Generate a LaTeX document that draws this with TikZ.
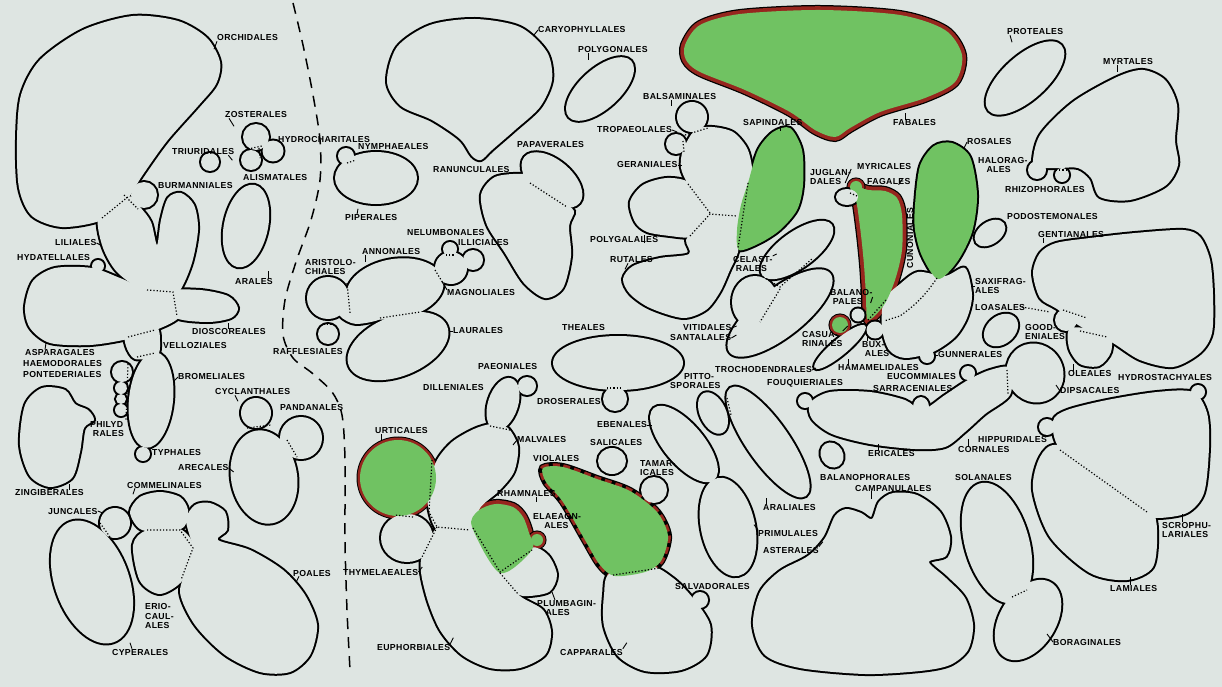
\documentclass[tikz,border=0pt]{standalone}
\usepackage{fontspec}
\setmainfont{Liberation Sans}
\newfontfamily\labfont[LetterSpace=4]{Liberation Sans}
\usetikzlibrary{calc}
\definecolor{paper}{RGB}{222,229,226}
\definecolor{leafgreen}{RGB}{112,194,98}
\definecolor{rimred}{RGB}{150,38,30}
\pgfdeclarelayer{bg}
\pgfdeclarelayer{lines}
\pgfdeclarelayer{top}
\pgfsetlayers{bg,lines,main,top}
\tikzset{
  outl/.style   = {line width=4pt, draw=black},
  rimblack/.style = {line width=10pt, draw=black},
  rim/.style    = {line width=7.5pt, draw=rimred},
  rimdash/.style = {line width=5.5pt, draw=rimred, dash pattern=on 7pt off 4pt},
  seam/.style   = {line width=1.2pt, dotted},
  lbl/.style    = {anchor=west, inner sep=0pt, align=left,
                   font=\labfont\bfseries\fontsize{8.7}{9.5}\selectfont},
  lead/.style   = {line width=0.9pt},
  divide/.style = {line width=1.5pt, dash pattern=on 11pt off 8pt},
}
% outline on the lines layer, fill on top: touching shapes merge
\newcommand\blob[2][paper]{%
  \begin{pgfonlayer}{lines}\draw[outl] plot[smooth cycle] coordinates {#2};\end{pgfonlayer}
  \fill[#1] plot[smooth cycle] coordinates {#2};}
\newcommand\lobe[5][paper]{%
  \begin{pgfonlayer}{lines}\draw[outl, rotate around={#5:(#2)}] (#2) ellipse [x radius=#3, y radius=#4];\end{pgfonlayer}
  \fill[#1, rotate around={#5:(#2)}] (#2) ellipse [x radius=#3, y radius=#4];}
\newcommand\redblob[1]{%
  \begin{pgfonlayer}{lines}\draw[rimblack] plot[smooth cycle] coordinates {#1};
  \draw[rim] plot[smooth cycle] coordinates {#1};\end{pgfonlayer}
  \fill[leafgreen] plot[smooth cycle] coordinates {#1};}
\newcommand\redlobe[3]{%
  \begin{pgfonlayer}{lines}\draw[rimblack, line width=7pt] (#1) circle [radius=#2];
  \draw[rim, line width=5pt] (#1) circle [radius=#2];\end{pgfonlayer}
  \fill[#3] (#1) circle [radius=#2];}

\begin{document}
\begin{tikzpicture}[x=1pt, y=-1pt]
\useasboundingbox (0,0) rectangle (1222,687);
\begin{pgfonlayer}{bg}\fill[paper] (0,0) rectangle (1222,687);\end{pgfonlayer}

% monocots
\blob{(17,140) (21,95) (40,60) (83,30) (133,16) (178,21) (207,38) (220,62) (216,84) (198,106) (167,141) (142,176) (128,198) (102,220) (62,227) (32,216) (19,188)}
\blob{(99,214) (102,245) (117,272) (147,293) (175,296) (191,266) (198,230) (194,205) (181,193) (168,198) (161,220) (157,245) (151,222) (140,207) (128,196)}
\lobe{144,195}{13}{13}{0}
\blob{(25,307) (33,281) (55,268) (92,268) (120,278) (147,289) (176,290) (180,316) (156,330) (128,339) (90,345) (50,343) (30,328)}
\lobe{98,266}{6}{6}{0}
\blob{(168,292) (200,290) (228,296) (238,308) (231,318) (207,322) (174,317)}
\blob{(127,333) (156,327) (160,342) (157,356) (135,359) (126,346)}
\lobe{151,400}{22}{48}{-6}
\lobe{122,372}{10}{10}{0}
\lobe{121,388}{6}{6}{0}
\lobe{121,399}{5}{5}{0}
\lobe{121,410}{6}{6}{0}
\lobe{143,454}{7}{7}{0}
\blob{(20,445) (25,405) (42,388) (65,390) (75,404) (88,410) (94,420) (84,428) (80,452) (72,478) (50,487) (30,476)}
\lobe{256,137}{13}{13}{0}
\lobe{273,151}{10.5}{10.5}{0}
\lobe{251,160}{10}{10}{0}
\lobe{210,162}{9}{9}{0}
\lobe{246,226}{22}{42}{-12}
\lobe{92,582}{37}{64}{20}
\lobe{115,523}{15}{15}{0}
\blob{(130,512) (140,497) (160,492) (180,497) (188,510) (184,527) (165,533) (140,529)}
\blob{(133,545) (147,530) (180,529) (194,548) (183,580) (160,594) (140,581)}
\blob{(186,520) (195,505) (210,503) (225,512) (227,530) (218,540) (250,550) (283,570) (305,595) (317,625) (310,655) (290,672) (260,672) (225,655) (195,625) (180,592) (190,562) (193,548)}
\lobe{264,477}{33}{47}{10}
\lobe{256,413}{15}{15}{0}
\lobe{301,438}{21}{21}{0}

% magnoliids and others
\lobe{376,178}{41}{26}{0}
\lobe{346,156}{8}{8}{0}
\blob{(387,82) (397,47) (430,25) (475,19) (520,27) (547,52) (552,80) (540,107) (515,130) (492,150) (481,160) (472,156) (460,139) (432,120) (401,106)}
\lobe{600,89}{42}{20}{42}
\blob{(523,174) (495,177) (481,195) (487,225) (505,253) (524,283) (545,298) (563,288) (571,256) (569,226) (574,211) (560,200) (535,180)}
\lobe{552,180}{36}{20}{-40}
\lobe{328,298}{21}{21}{0}
\lobe{328,334}{10}{10}{0}
\blob{(338,302) (362,306) (382,318) (356,324) (340,316)}
\lobe{395,289}{49}{30}{10}
\lobe{398,346}{53}{30}{22}
\lobe{451,268}{16}{16}{0}
\lobe{450,249}{7}{7}{0}
\lobe{473,260}{10}{10}{0}
\lobe{618,363}{65}{27}{0}
\lobe{615,399}{12}{12}{0}

% dilleniids
\lobe{503,404}{15}{27}{-18}
\lobe{527,386}{9}{9}{0}
\blob{(436,462) (452,442) (474,429) (492,424) (508,428) (518,447) (514,472) (499,491) (480,508) (472,532) (437,530) (427,495)}
\lobe{407,538}{26}{24}{0}
\blob{(440,525) (478,528) (500,573) (520,596) (543,610) (551,632) (545,655) (520,668) (490,668) (462,655) (440,630) (426,595) (421,560)}
\blob{(498,575) (530,548) (548,555) (557,575) (549,592) (523,596) (508,588)}
\redlobe{398,478}{38}{leafgreen}
\redblob{(472,527) (478,511) (495,504) (513,507) (523,517) (529,533) (532,550) (500,573)}
\redlobe{537,540}{6}{leafgreen}
\blob{(610,573) (650,566) (673,578) (692,597) (710,625) (706,655) (681,670) (645,671) (618,656) (604,626) (604,595)}
\lobe{700,600}{8}{8}{0}
\lobe{612,461}{14}{13}{0}
\lobe{654,490}{13}{13}{0}
\begin{pgfonlayer}{lines}
\draw[rimblack, line width=8pt] plot[smooth cycle] coordinates {(543,468) (563,467) (597,479) (630,491) (657,512) (668,536) (661,561) (645,572) (615,576) (600,565) (585,540) (563,502) (546,482)};
\draw[rimdash] plot[smooth cycle] coordinates {(543,468) (563,467) (597,479) (630,491) (657,512) (668,536) (661,561) (645,572) (615,576) (600,565) (585,540) (563,502) (546,482)};
\end{pgfonlayer}
\fill[leafgreen] plot[smooth cycle] coordinates {(543,468) (563,467) (597,479) (630,491) (657,512) (668,536) (661,561) (645,572) (615,576) (600,565) (585,540) (563,502) (546,482)};
\lobe{684,444}{47}{20}{-50}
\lobe{713,413}{13}{22}{25}
\lobe{768,442}{66}{21}{-55}
\lobe{728,527}{27}{50}{12}

% rosids
\redblob{(685,45) (700,25) (740,14) (820,10) (900,15) (945,30) (962,55) (955,82) (925,98) (880,112) (850,128) (835,137) (815,130) (790,112) (745,90) (700,72) (686,60)}
\blob{(686,240) (689,254) (660,258) (633,266) (623,279) (630,294) (650,308) (683,318) (706,310) (720,292) (730,270) (738,252) (739,232) (737,212) (710,211) (697,226)}
\blob{(690,183) (667,178) (643,185) (630,202) (635,222) (647,232) (670,236) (690,237) (702,225) (712,210)}
\blob{(683,150) (695,130) (712,127) (733,132) (747,148) (752,168) (750,185) (742,205) (739,218) (710,216) (689,186) (681,168)}
\lobe{692,117}{15}{15}{0}
\lobe{676,144}{10}{10}{0}
\blob[leafgreen]{(748,183) (758,150) (773,132) (790,128) (802,150) (803,185) (797,210) (780,230) (760,243) (739,250) (737,230) (741,205)}
\lobe{780,313}{64}{24}{38}
\lobe{797,250}{43}{18}{36}
\lobe{755,302}{23}{26}{0}
\lobe{1025,78}{49}{22}{42}
\blob{(1033,165) (1040,135) (1073,102) (1117,77) (1143,70) (1165,80) (1177,105) (1175,140) (1178,165) (1165,186) (1130,200) (1100,197) (1091,178) (1078,168) (1060,168) (1045,168)}
\lobe{1037,170}{9}{9}{0}
\lobe{1062,175}{7}{7}{0}
\blob{(884,300) (900,284) (918,272) (945,276) (965,268) (972,295) (967,318) (955,337) (933,352) (905,358) (889,350) (882,328)}
\lobe{927,356}{7}{7}{0}
\blob[leafgreen]{(915,205) (920,166) (934,146) (952,143) (970,157) (977,195) (972,232) (957,262) (938,279) (922,256) (915,230)}
\redblob{(853,186) (868,190) (885,191) (897,198) (902,215) (902,250) (895,280) (884,305) (868,320) (866,295) (864,265) (861,235) (857,205)}
\redlobe{856,187}{6}{leafgreen}
\lobe{847,197}{11}{8}{0}
\lobe{840,347}{33}{8}{40}
\redlobe{840,325}{8}{leafgreen}
\lobe{858,315}{6.5}{6.5}{0}
\lobe{875,330}{8.5}{8.5}{0}
\lobe{990,233}{17}{11}{35}
\lobe{1001,330}{19}{14}{40}

% asterids
\blob{(1057,309) (1040,298) (1033,273) (1040,253) (1056,243) (1090,238) (1135,233) (1183,230) (1200,237) (1210,260) (1213,295) (1212,333) (1200,353) (1173,367) (1140,360) (1113,343) (1092,333) (1075,323)}
\lobe{1066,320}{11}{11}{0}
\blob{(1071,328) (1108,333) (1111,352) (1099,366) (1080,364) (1069,348)}
\lobe{805,401}{7}{7}{0}
\blob{(810,403) (830,392) (870,392) (905,400) (922,410) (945,395) (968,380) (990,370) (1010,368) (1010,395) (985,414) (965,432) (945,447) (915,449) (870,444) (832,434) (812,419)}
\lobe{1035,373}{28}{30}{30}
\lobe{968,373}{7}{7}{0}
\lobe{921,407}{8}{10}{0}
\lobe{832,455}{11}{13}{30}
\blob{(753,625) (760,592) (780,571) (808,556) (825,538) (835,516) (846,509) (861,513) (872,519) (879,502) (893,493) (917,495) (940,512) (950,537) (946,556) (929,562) (946,578) (965,598) (973,625) (968,650) (950,665) (920,671) (865,674) (800,668) (765,655)}
\lobe{997,543}{32}{62}{16}
\lobe{1028,620}{28}{44}{-32}
\blob{(1058,445) (1040,457) (1033,490) (1050,537) (1090,573) (1127,580) (1153,567) (1157,530) (1150,508) (1110,468)}
\blob{(1053,421) (1067,410) (1107,400) (1157,392) (1193,392) (1207,413) (1209,447) (1204,493) (1187,513) (1157,518) (1147,512) (1105,482) (1060,449)}
\lobe{1047,427}{8}{8}{0}
\lobe{1198,392}{7}{7}{0}

\begin{pgfonlayer}{top}
% dotted seams between merged orders
\draw[seam] (102,218) -- (129,196);
\draw[seam] (124,195) -- (138,209);
\draw[seam] (147,290) -- (173,292) -- (177,316);
\draw[seam] (128,337) -- (155,330);
\draw[seam] (137,357) -- (155,353);
\draw[seam] (128,364) -- (126,420);
\draw[seam] (248,149) -- (262,146);
\draw[seam] (259,148) -- (260,158);
\draw[seam] (347,163) -- (356,160);
\draw[seam] (530,183) -- (567,207);
\draw[seam] (347,283) -- (350,313);
\draw[seam] (380,318) -- (420,312);
\draw[seam] (435,270) -- (443,283);
\draw[seam] (446,255) -- (455,255);
\draw[seam] (324,324) -- (333,324);
\draw[seam] (607,388) -- (622,388);
\draw[seam] (490,426) -- (510,430);
\draw[seam] (432,460) -- (429,512);
\draw[seam] (413,517) -- (395,515);
\draw[seam] (430,514) -- (437,527) -- (470,530);
\draw[seam] (437,527) -- (422,557);
\draw[seam] (473,528) -- (500,572) -- (532,550);
\draw[seam] (500,573) -- (518,594);
\draw[seam] (613,575) -- (660,568);
\draw[seam] (727,398) -- (731,415);
\draw[seam] (685,135) -- (708,128);
\draw[seam] (683,141) -- (684,152);
\draw[seam] (688,184) -- (710,213);
\draw[seam] (690,236) -- (710,214) -- (737,216);
\draw[seam] (748,183) -- (738,248);
\draw[seam] (937,278) to[bend left=10] (900,316) -- (884,321);
\draw[seam] (868,320) -- (886,300);
\draw[seam] (850,193) -- (857,196);
\draw[seam] (1056,170) -- (1068,170);
\draw[seam] (1063,310) -- (1087,318);
\draw[seam] (1080,331) -- (1107,337);
\draw[seam] (1022,307) -- (1050,312);
\draw[seam] (1007,370) -- (1008,395);
\draw[seam] (1060,450) -- (1147,512);
\draw[seam] (1012,597) -- (1027,590);
\draw[seam] (100,523) -- (110,537);
\draw[seam] (147,530) -- (180,530) -- (193,548) -- (181,580);
\draw[seam] (247,428) -- (271,425);
\draw[seam] (287,440) -- (297,457);
\draw[seam] (763,277) -- (780,287) -- (813,258);
\draw[seam] (780,289) -- (760,322);

% boundary between monocots and dicots
\draw[divide] plot[smooth] coordinates {(293,3) (303,45) (313,95) (320,140) (320,180) (311,220) (296,262) (285,300) (283,335) (293,358) (312,373) (332,392) (342,415) (345,460) (345,540) (347,610) (350,670)};

% labels
\node[lbl] (orch) at (217,38) {ORCHIDALES};
\node[lbl] (zost) at (225,115) {ZOSTERALES};
\node[lbl] (triu) at (172,152) {TRIURIDALES};
\node[lbl] (hydroch) at (278,140) {HYDROCHARITALES};
\node[lbl] (alism) at (243,178) {ALISMATALES};
\node[lbl] (burm) at (158,186) {BURMANNIALES};
\node[lbl] (nymph) at (358,147) {NYMPHAEALES};
\node[lbl] (piper) at (345,218) {PIPERALES};
\node[lbl] (lili) at (55,243) {LILIALES};
\node[lbl] (hydat) at (17,258) {HYDATELLALES};
\node[lbl] (arales) at (235,282) {ARALES};
\node[lbl] (diosc) at (192,332) {DIOSCOREALES};
\node[lbl] (vello) at (163,346) {VELLOZIALES};
\node[lbl] (aspar) at (25,353) {ASPARAGALES};
\node[lbl] (haemo) at (23,364) {HAEMODORALES};
\node[lbl] (ponte) at (23,375) {PONTEDERIALES};
\node[lbl] (brom) at (178,377) {BROMELIALES};
\node[lbl] (cycl) at (215,392) {CYCLANTHALES};
\node[lbl] (pand) at (280,408) {PANDANALES};
\node[lbl] (philyd) at (90,429) {PHILYD\\\ RALES};
\node[lbl] (typh) at (152,453) {TYPHALES};
\node[lbl] (areca) at (178,468) {ARECALES};
\node[lbl] (zingi) at (15,493) {ZINGIBERALES};
\node[lbl] (comm) at (127,485) {COMMELINALES};
\node[lbl] (junc) at (48,511) {JUNCALES};
\node[lbl] (poales) at (293,573) {POALES};
\node[lbl] (erio) at (145,616) {ERIO-\\CAUL-\\ALES};
\node[lbl] (cyper) at (112,652) {CYPERALES};
\node[lbl] (raffl) at (273,352) {RAFFLESIALES};
\node[lbl] (aristo) at (305,267) {ARISTOLO-\\CHIALES};
\node[lbl] (annon) at (362,252) {ANNONALES};
\node[lbl] (nelum) at (407,233) {NELUMBONALES};
\node[lbl] (illic) at (458,243) {ILLICIALES};
\node[lbl] (magno) at (447,293) {MAGNOLIALES};
\node[lbl] (laura) at (453,331) {LAURALES};
\node[lbl] (caryo) at (538,30) {CARYOPHYLLALES};
\node[lbl] (polygo) at (578,50) {POLYGONALES};
\node[lbl] (ranun) at (433,170) {RANUNCULALES};
\node[lbl] (papav) at (517,145) {PAPAVERALES};
\node[lbl] (balsa) at (643,97) {BALSAMINALES};
\node[lbl] (tropa) at (597,130) {TROPAEOLALES};
\node[lbl] (gera) at (617,165) {GERANIALES};
\node[lbl] (sapin) at (743,123) {SAPINDALES};
\node[lbl] (fabal) at (893,123) {FABALES};
\node[lbl] (jugl) at (810,177) {JUGLAN-\\DALES};
\node[lbl] (myric) at (857,167) {MYRICALES};
\node[lbl] (fagal) at (867,182) {FAGALES};
\node[lbl] (polyga) at (590,240) {POLYGALALES};
\node[lbl] (rutal) at (610,260) {RUTALES};
\node[lbl] (celas) at (733,264) {CELAST-\\\ RALES};
\node[lbl] (balano) at (830,297) {BALANO-\\\ PALES};
\node[lbl] (casua) at (802,339) {CASUA-\\RINALES};
\node[lbl] (buxal) at (862,349) {BUX-\\\ ALES};
\node[lbl] (vitid) at (683,328) {VITIDALES};
\node[lbl] (santa) at (670,338) {SANTALALES};
\node[lbl] (theal) at (562,328) {THEALES};
\node[lbl] (troch) at (715,370) {TROCHODENDRALES};
\node[lbl] (hamam) at (838,368) {HAMAMELIDALES};
\node[lbl] (pitto) at (670,381) {\ \ \ \ \ PITTO-\\SPORALES};
\node[lbl] (fouq) at (767,383) {FOUQUIERIALES};
\node[lbl] (paeon) at (478,367) {PAEONIALES};
\node[lbl] (dille) at (423,388) {DILLENIALES};
\node[lbl] (drose) at (537,402) {DROSERALES};
\node[lbl] (ebena) at (597,425) {EBENALES};
\node[lbl] (salic) at (590,443) {SALICALES};
\node[lbl] (malva) at (517,440) {MALVALES};
\node[lbl] (urtic) at (375,431) {URTICALES};
\node[lbl] (viola) at (533,458) {VIOLALES};
\node[lbl] (tamar) at (640,468) {TAMAR-\\ICALES};
\node[lbl] (rhamn) at (497,494) {RHAMNALES};
\node[lbl] (elaea) at (533,521) {ELAEAGN-\\\ \ \ \ ALES};
\node[lbl] (thyme) at (343,572) {THYMELAEALES};
\node[lbl] (plumb) at (537,608) {PLUMBAGIN-\\\ \ \ ALES};
\node[lbl] (euph) at (377,647) {EUPHORBIALES};
\node[lbl] (cappa) at (560,652) {CAPPARALES};
\node[lbl] (salva) at (675,586) {SALVADORALES};
\node[lbl] (arali) at (763,507) {ARALIALES};
\node[lbl] (primu) at (758,533) {PRIMULALES};
\node[lbl] (aster) at (763,550) {ASTERALES};
\node[lbl] (balph) at (820,477) {BALANOPHORALES};
\node[lbl] (campa) at (855,488) {CAMPANULALES};
\node[lbl] (erica) at (868,454) {ERICALES};
\node[lbl] (hippu) at (978,440) {HIPPURIDALES};
\node[lbl] (corna) at (958,450) {CORNALES};
\node[lbl] (solan) at (955,477) {SOLANALES};
\node[lbl] (scrop) at (1162,530) {SCROPHU-\\LARIALES};
\node[lbl] (lamia) at (1110,588) {LAMIALES};
\node[lbl] (borag) at (1053,642) {BORAGINALES};
\node[lbl] (eucom) at (887,377) {EUCOMMIALES};
\node[lbl] (sarra) at (873,389) {SARRACENIALES};
\node[lbl] (gunne) at (938,355) {GUNNERALES};
\node[lbl] (saxif) at (975,286) {SAXIFRAG-\\ALES};
\node[lbl] (loasa) at (975,308) {LOASALES};
\node[lbl] (goode) at (1025,332) {GOOD-\\ENIALES};
\node[lbl] (oleal) at (1068,374) {OLEALES};
\node[lbl] (dipsa) at (1060,391) {DIPSACALES};
\node[lbl] (hydst) at (1118,378) {HYDROSTACHYALES};
\node[lbl] (genti) at (1038,235) {GENTIANALES};
\node[lbl] (podos) at (1007,217) {PODOSTEMONALES};
\node[lbl] (rosal) at (967,142) {ROSALES};
\node[lbl] (halor) at (978,165) {HALORAG-\\\ \ \ ALES};
\node[lbl] (rhizo) at (1005,190) {RHIZOPHORALES};
\node[lbl] (myrta) at (1103,62) {MYRTALES};
\node[lbl] (prote) at (1007,32) {PROTEALES};
\node[lbl, rotate=90, anchor=center] (cunon) at (910,238) {CUNONIALES};

% leaders
\draw[lead] (orch.south west) -- ++(-3,8);
\draw[lead] (zost.south west) ++(4,0) -- ++(5,8);
\draw[lead] (triu.south east) ++(-6,0) -- ++(4,5);
\draw[lead] (lili.east) -- ++(4,2);
\draw[lead] (arales.north east) ++(-4,0) -- ++(0,-8);
\draw[lead] (diosc.north) -- ++(0,-6);
\draw[lead] (aspar.north west) ++(20,0) -- ++(1,-7);
\draw[lead] (brom.west) -- ++(-4,4);
\draw[lead] (piper.north west) ++(12,0) -- ++(1,-6);
\draw[lead] (caryo.west) -- ++(-4,5);
\draw[lead] (polygo.south west) ++(10,0) -- ++(0,7);
\draw[lead] (fabal.north west) ++(12,0) -- ++(0,-7);
\draw[lead] (rutal.south west) ++(18,0) -- ++(-3,6);
\draw[lead] (polyga.south east) ++(-14,0) -- ++(0,-8);
\draw[lead] (celas.north east) -- ++(4,-2);
\draw[lead] (gera.east) -- ++(4,0);
\draw[lead] (sapin.south) ++(8,0) -- ++(0,5);
\draw[lead] (balsa.south west) ++(28,0) -- ++(0,6);
\draw[lead] (tropa.east) -- ++(5,2);
\draw[lead] (hamam.north west) ++(10,0) -- ++(0,-6);
\draw[lead] (troch.east) -- ++(4,-2);
\draw[lead] (casua.north east) -- ++(5,-5);
\draw[lead] (buxal.north west) ++(5,0) -- ++(0,-6);
\draw[lead] (balano.east) -- ++(-2,6);
\draw[lead] (vitid.east) -- ++(5,-2);
\draw[lead] (santa.east) -- ++(5,-3);
\draw[lead] (fagal.north east) ++(-8,0) -- ++(-4,6);
\draw[lead] (jugl.north east) -- ++(-6,14);
\draw[lead] (malva.west) -- ++(-4,5);
\draw[lead] (rhamn.south) ++(10,0) -- ++(0,5);
\draw[lead] (plumb.north west) ++(18,0) -- ++(-3,-8);
\draw[lead] (euph.north east) -- ++(3,-6);
\draw[lead] (cappa.north east) -- ++(4,-6);
\draw[lead] (arali.north west) ++(3,0) -- ++(0,-6);
\draw[lead] (primu.north west) -- ++(-4,-5);
\draw[lead] (aster.north east) -- ++(4,-5);
\draw[lead] (campa.south west) ++(16,0) -- ++(0,8);
\draw[lead] (erica.north west) ++(10,0) -- ++(0,-7);
\draw[lead] (corna.north west) ++(10,0) -- ++(0,-8);
\draw[lead] (scrop.north west) ++(20,0) -- ++(0,-8);
\draw[lead] (lamia.north west) ++(20,0) -- ++(0,-8);
\draw[lead] (borag.west) -- ++(-6,-8);
\draw[lead] (genti.south west) ++(5,0) -- ++(0,5);
\draw[lead] (myrta.south west) ++(14,0) -- ++(0,7);
\draw[lead] (prote.south west) ++(3,0) -- ++(2,7);
\draw[lead] (rosal.west) -- ++(-3,6);
\draw[lead] (saxif.west) -- ++(-4,0);
\draw[lead] (gunne.west) -- ++(-4,0);
\draw[lead] (dipsa.west) -- ++(-4,-6);
\draw[lead] (oleal.north west) ++(5,0) -- ++(0,-7);
\draw[lead] (ebena.east) -- ++(5,0);
\draw[lead] (thyme.east) -- ++(4,-5);
\draw[lead] (urtic.south west) ++(6,0) -- ++(0,7);
\draw[lead] (laura.west) -- ++(-4,0);
\draw[lead] (magno.north west) -- ++(-5,-8);
\draw[lead] (annon.south west) ++(3,0) -- ++(0,7);
\draw[lead] (poales.south west) ++(6,0) -- ++(-3,6);
\draw[lead] (cyper.north west) ++(20,0) -- ++(-2,-6);
\draw[lead] (comm.south west) ++(8,0) -- ++(-2,6);
\draw[lead] (junc.east) -- ++(5,2);
\draw[lead] (zingi.north east) ++(-15,0) -- ++(0,-6);
\draw[lead] (areca.east) -- ++(5,4);
\draw[lead] (cycl.south west) ++(20,0) -- ++(3,6);
\end{pgfonlayer}
\end{tikzpicture}
\end{document}
